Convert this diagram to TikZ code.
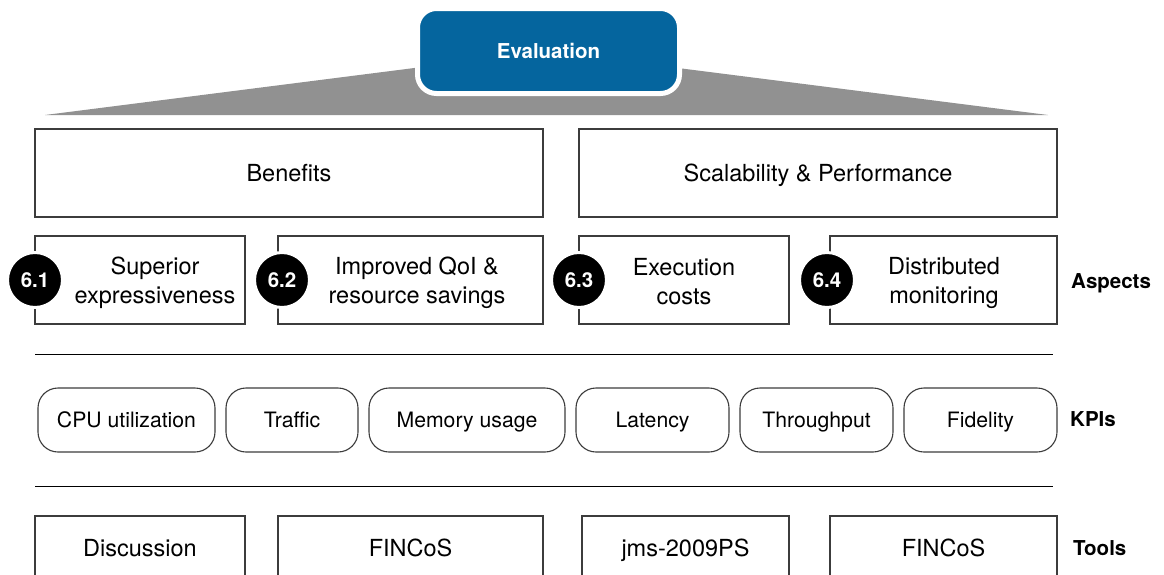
\documentclass[tikz,border=0pt]{standalone}
\usepackage{fontspec}
\setmainfont{TeX Gyre Heros}
\definecolor{evalblue}{RGB}{5,101,158}
\definecolor{wedgegray}{RGB}{145,145,145}
\definecolor{boxline}{RGB}{60,60,60}
\tikzset{
  txt/.style={font=\fontsize{23.5}{29}\selectfont, align=center},
  one/.style={text height=17pt, text depth=0pt},
  boldlbl/.style={font=\fontsize{20.5}{24}\selectfont\bfseries, anchor=west, inner sep=0pt, text height=14.8pt, text depth=0pt},
  plainbox/.style={draw=boxline, line width=1.1pt, rectangle, inner sep=0pt, txt},
  kpibox/.style={draw=boxline, line width=1.1pt, rounded corners=20pt, inner sep=0pt,
                 font=\fontsize{21.2}{26}\selectfont, text height=15.3pt, text depth=0pt, minimum height=64pt},
  badge/.style={circle, fill=black, draw=white, line width=3pt, minimum size=55pt, inner sep=0pt,
                text=white, font=\fontsize{20.5}{24}\selectfont\bfseries},
  sepline/.style={draw=black, line width=0.9pt}
}
\begin{document}
\begin{tikzpicture}[x=1pt,y=-1pt]
\clip (0,0) rectangle (1164,574);
\fill[white] (0,0) rectangle (1164,574);
% wedge
\fill[wedgegray] (45,115) -- (430,66) -- (670,67) -- (1048,115) -- cycle;
% evaluation
\node[fill=evalblue, draw=white, line width=5pt, rounded corners=19pt, minimum width=262pt, minimum height=85pt,
      text=white, font=\fontsize{20.5}{24}\selectfont\bfseries, text height=14.8pt, text depth=0pt, inner sep=0pt] (eval) at (548.5,51) {Evaluation};
% top row
\node[plainbox, one, minimum width=508pt, minimum height=88pt] (benefits) at (289,173) {Benefits};
\node[plainbox, one, minimum width=478pt, minimum height=88pt] (scal) at (818,173) {Scalability \& Performance};
% aspects
\node[plainbox, minimum width=210pt, minimum height=88pt] (a1) at (140,280) {};
\node[txt] (a1t) at (155,282.5) {Superior\\expressiveness};
\node[plainbox, minimum width=265pt, minimum height=88pt] (a2) at (410.5,280) {};
\node[txt] (a2t) at (417,282.5) {Improved QoI \&\\resource savings};
\node[plainbox, minimum width=210pt, minimum height=88pt] (a3) at (684,280) {};
\node[txt] (a3t) at (684,282) {Execution\\costs};
\node[plainbox, minimum width=227pt, minimum height=88pt] (a4) at (943.5,280) {};
\node[txt] (a4t) at (944,282.5) {Distributed\\monitoring};
\node[badge] (b1) at (35,280) {6.1};
\node[badge] (b2) at (282,280) {6.2};
\node[badge] (b3) at (579,280) {6.3};
\node[badge] (b4) at (827,280) {6.4};
\node[boldlbl] (aspects) at (1071,281) {Aspects};
% separator 1
\coordinate (s1a) at (35,354);
\coordinate (s1b) at (1053,354);
\draw[sepline] (s1a) -- (s1b);
% KPIs
\node[kpibox, minimum width=177pt] (k1) at (126.5,420) {CPU utilization};
\node[kpibox, minimum width=132pt] (k2) at (292,420) {Traffic};
\node[kpibox, minimum width=196pt] (k3) at (467,420) {Memory usage};
\node[kpibox, minimum width=153pt] (k4) at (652.5,420) {Latency};
\node[kpibox, minimum width=153pt] (k5) at (816.5,420) {Throughput};
\node[kpibox, minimum width=153pt] (k6) at (980.5,420) {Fidelity};
\node[boldlbl] (kpis) at (1070,419) {KPIs};
% separator 2
\coordinate (s2a) at (35,486);
\coordinate (s2b) at (1053,486);
\draw[sepline] (s2a) -- (s2b);
% tools
\node[plainbox, one, minimum width=210pt, minimum height=64pt] (t1) at (140,548) {Discussion};
\node[plainbox, one, minimum width=265pt, minimum height=64pt] (t2) at (410.5,548) {FINCoS};
\node[plainbox, one, minimum width=207pt, minimum height=64pt] (t3) at (685.5,548) {jms-2009PS};
\node[plainbox, one, minimum width=227pt, minimum height=64pt] (t4) at (943.5,548) {FINCoS};
\node[boldlbl] (tools) at (1073,548) {Tools};
\end{tikzpicture}
\end{document}
